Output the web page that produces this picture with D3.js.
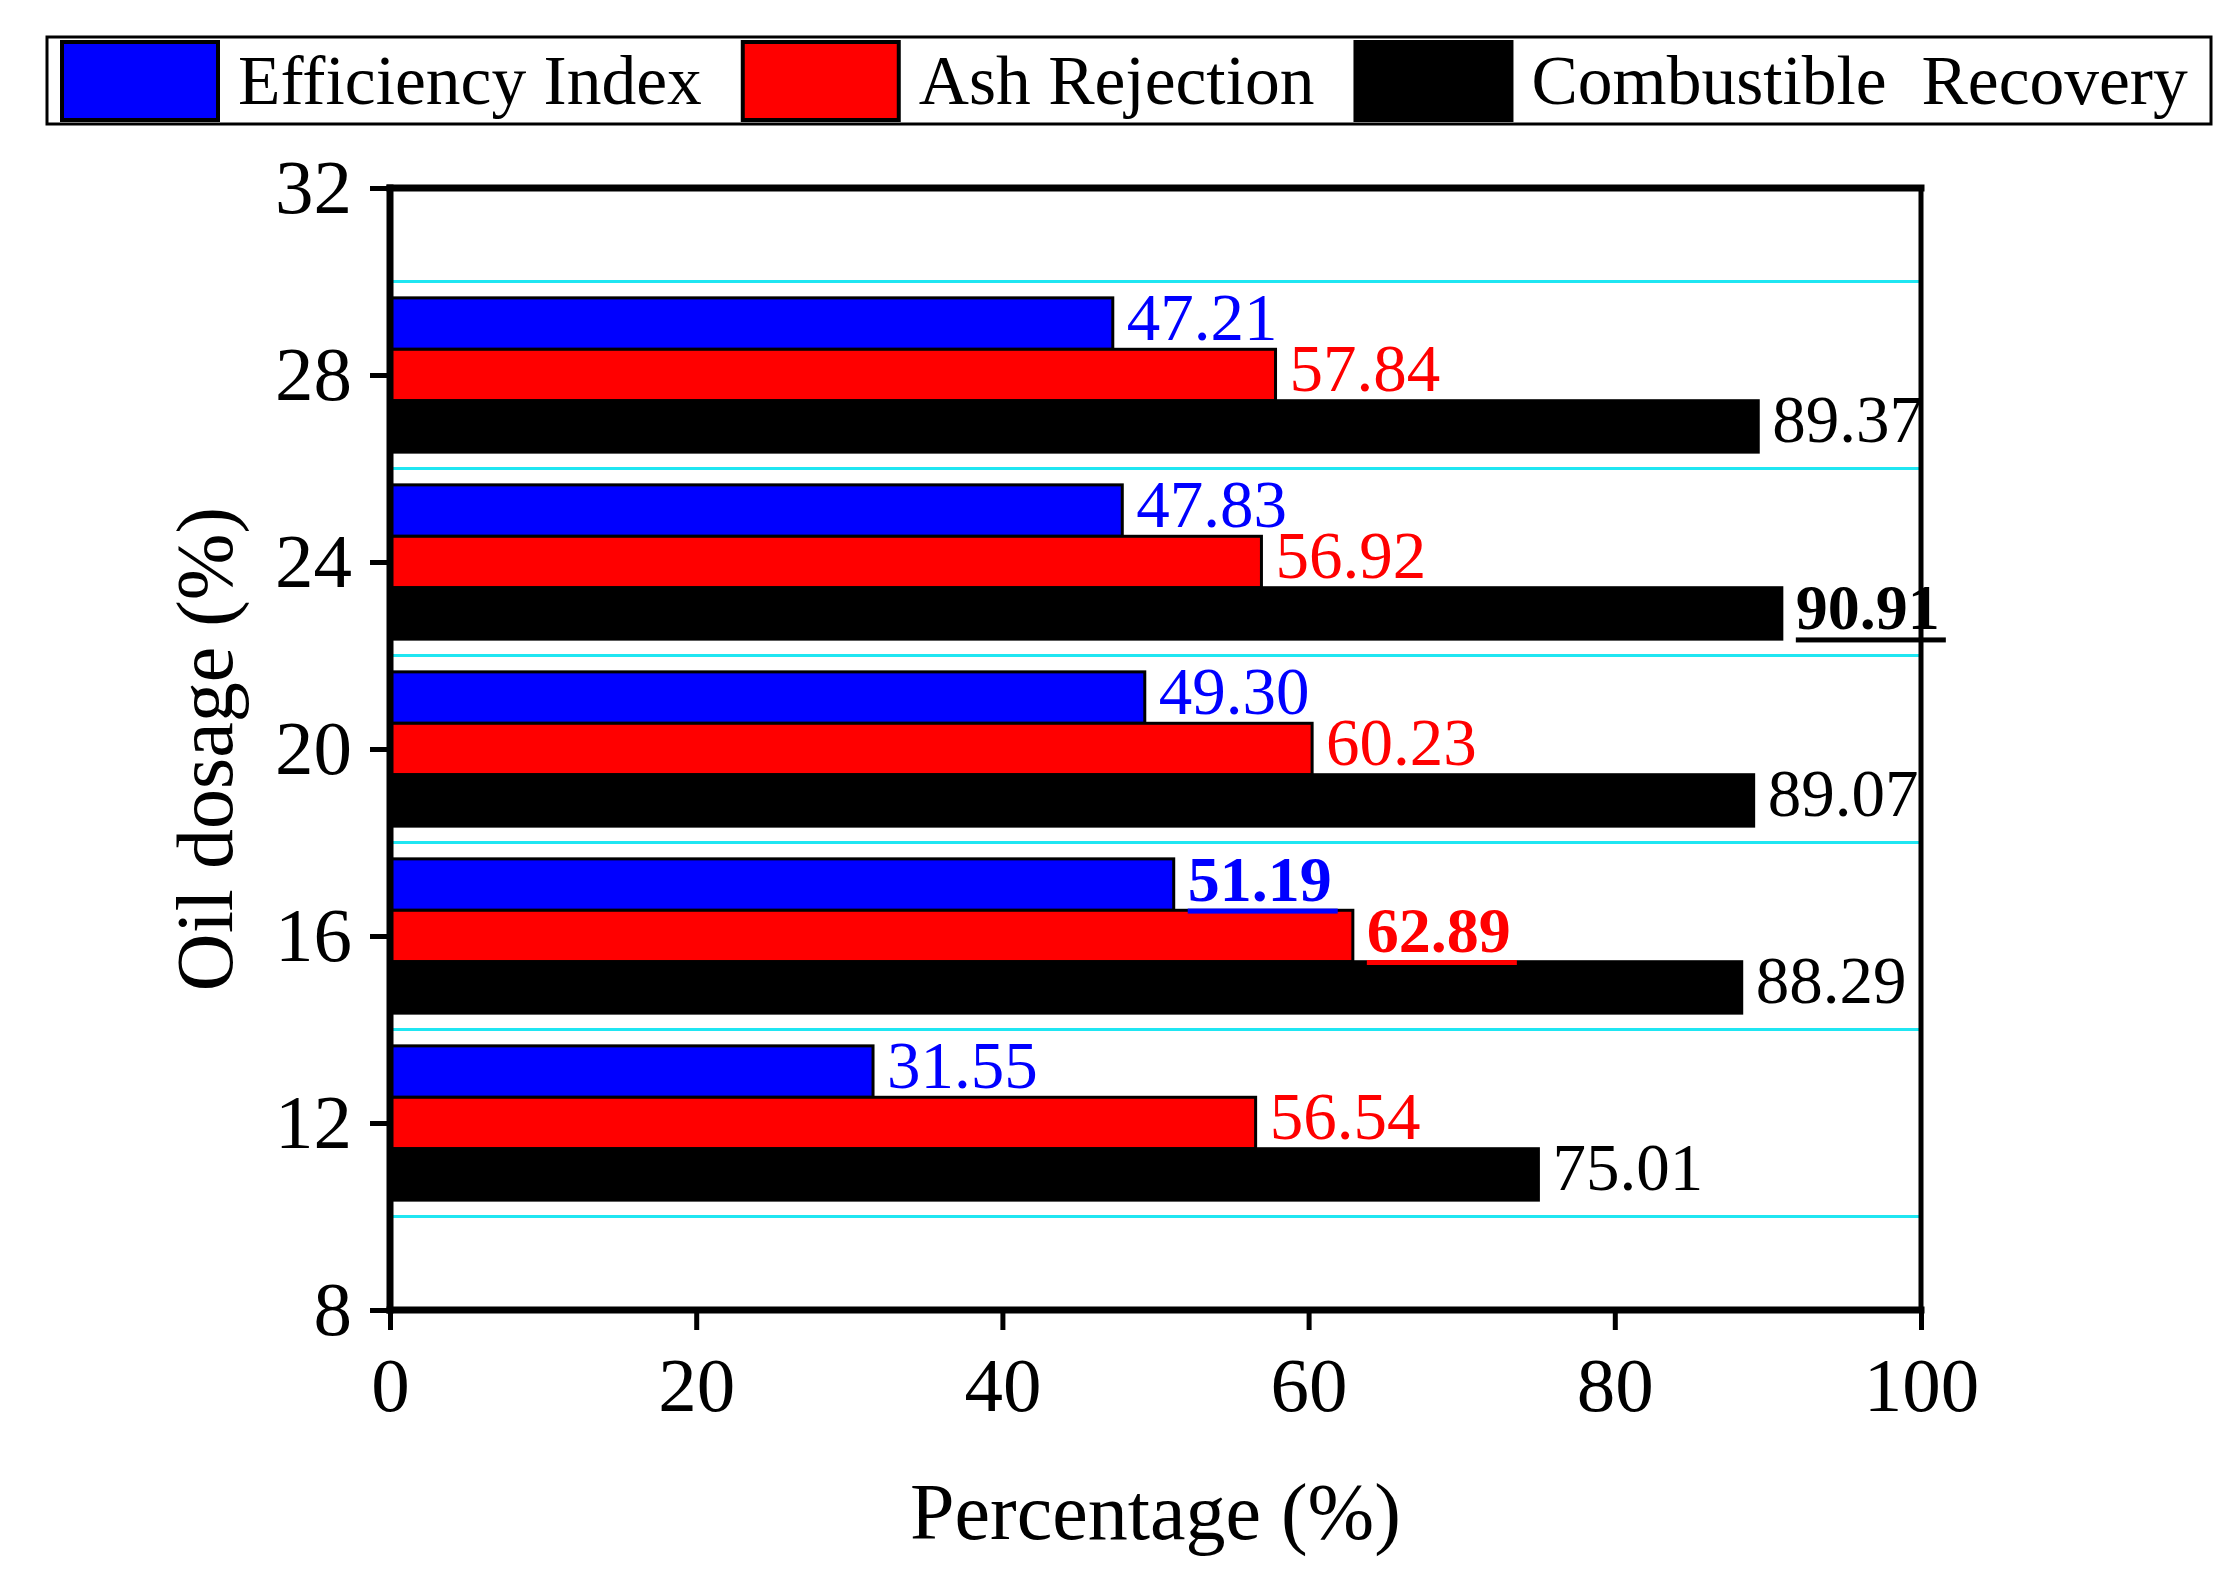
<!doctype html>
<html lang="en">
<head>
  <meta charset="utf-8">
  <title>Oil dosage</title>
  <style>
    body { margin: 0; background: #fff; }
    svg { display: block; font-family: "Liberation Serif", "Times New Roman", serif; }
    .legend-text { white-space: pre; }
  </style>
</head>
<body>
  <div id="chart"></div>
  <script src="https://cdn.jsdelivr.net/npm/d3@7"></script>
  <script>
(function() {

  // values
  var dosages = [12, 16, 20, 24, 28];
  var efficiencyIndex = [31.55, 51.19, 49.30, 47.83, 47.21];
  var ashRejection = [56.54, 62.89, 60.23, 56.92, 57.84];
  var combustibleRecovery = [75.01, 88.29, 89.07, 90.91, 89.37];
  var seriesNames = ["Efficiency Index", "Ash Rejection", "Combustible  Recovery"];
  var seriesColors = ["#0000ff", "#ff0000", "#000000"];
  var xTicks = [0, 20, 40, 60, 80, 100];
  var yTicks = [8, 12, 16, 20, 24, 28, 32];
  var gridLines = [10, 14, 18, 22, 26, 30];

  var width = 2240;
  var height = 1586;
  var left = 390, right = 1921, top = 188, bottom = 1310;
  var barUnits = 1.1;

  var svg = d3.select("#chart")
      .append("svg")
      .attr("width", width)
      .attr("height", height);

  var x = d3.scaleLinear().domain([0, 100]).range([left, right]);
  var y = d3.scaleLinear().domain([8, 32]).range([bottom, top]);
  var barH = y(0) - y(barUnits);

  var series = [efficiencyIndex, ashRejection, combustibleRecovery];

  // cyan minor lines
  svg.append("g").selectAll("line")
      .data(gridLines)
      .enter().append("line")
      .attr("x1", left).attr("x2", right)
      .attr("y1", function(d) { return y(d); })
      .attr("y2", function(d) { return y(d); })
      .attr("stroke", "#1fe6f2")
      .attr("stroke-width", 3);

  // bars: blue on top, red on the tick, black below
  series.forEach(function(vals, i) {
    var shift = (1 - i) * barUnits;
    svg.append("g").selectAll("rect")
        .data(vals)
        .enter().append("rect")
        .attr("x", x(0))
        .attr("y", function(d, j) { return y(dosages[j] + shift) - barH / 2; })
        .attr("width", function(d) { return x(d) - x(0); })
        .attr("height", barH)
        .attr("fill", seriesColors[i])
        .attr("stroke", "#000")
        .attr("stroke-width", 3);
  });

  // axes
  var yAxis = svg.append("g")
      .attr("transform", "translate(" + left + ",0)")
      .call(d3.axisLeft(y).tickValues(yTicks).tickSize(20).tickSizeOuter(0).tickPadding(18));
  var xAxis = svg.append("g")
      .attr("transform", "translate(0," + bottom + ")")
      .call(d3.axisBottom(x).tickValues(xTicks).tickSize(20).tickSizeOuter(0).tickPadding(26));

  [yAxis, xAxis].forEach(function(a) {
    a.select(".domain").remove();
    a.selectAll(".tick line").attr("stroke", "#000").attr("stroke-width", 5);
    a.selectAll(".tick text")
        .attr("fill", "#000")
        .style("font-size", "77px")
        .style("font-family", "'Liberation Serif', 'Times New Roman', serif");
  });

  // frame
  var frame = svg.append("g").attr("stroke", "#000").attr("stroke-linecap", "square");
  frame.append("line").attr("x1", left).attr("x2", right).attr("y1", top).attr("y2", top).attr("stroke-width", 7);
  frame.append("line").attr("x1", left).attr("x2", right).attr("y1", bottom).attr("y2", bottom).attr("stroke-width", 7);
  frame.append("line").attr("x1", left).attr("x2", left).attr("y1", top).attr("y2", bottom).attr("stroke-width", 7);
  frame.append("line").attr("x1", right).attr("x2", right).attr("y1", top).attr("y2", bottom).attr("stroke-width", 5);

  // value labels, the largest of each series bold and underlined
  var fmt = d3.format(".2f");
  series.forEach(function(vals, i) {
    var shift = (1 - i) * barUnits;
    var best = d3.max(vals);
    vals.forEach(function(v, j) {
      var bold = v === best;
      var baseY = y(dosages[j] + shift) + 16;
      var t = svg.append("text")
          .attr("x", x(v) + 14)
          .attr("y", baseY)
          .attr("fill", seriesColors[i])
          .style("font-size", bold ? "64px" : "67px")
          .style("font-weight", bold ? "bold" : "normal")
          .text(fmt(v));
      if (bold) {
        var w = t.node().getComputedTextLength();
        svg.append("rect")
            .attr("x", x(v) + 14)
            .attr("y", baseY + 8)
            .attr("width", w + 6)
            .attr("height", 5)
            .attr("fill", seriesColors[i]);
      }
    });
  });

  // axis titles
  svg.append("text")
      .attr("x", (left + right) / 2)
      .attr("y", 1539)
      .attr("text-anchor", "middle")
      .style("font-size", "80px")
      .text("Percentage (%)");

  svg.append("text")
      .attr("transform", "translate(232," + (top + bottom) / 2 + ") rotate(-90)")
      .attr("text-anchor", "middle")
      .style("font-size", "80px")
      .text("Oil dosage (%)");

  // legend
  var legend = svg.append("g");
  legend.append("rect")
      .attr("x", 47).attr("y", 37)
      .attr("width", 2164).attr("height", 87)
      .attr("fill", "none")
      .attr("stroke", "#000")
      .attr("stroke-width", 3);

  var lx = 62;
  seriesNames.forEach(function(name, i) {
    legend.append("rect")
        .attr("x", lx).attr("y", 42)
        .attr("width", 156).attr("height", 78)
        .attr("fill", seriesColors[i])
        .attr("stroke", "#000")
        .attr("stroke-width", 4);
    var t = legend.append("text")
        .attr("class", "legend-text")
        .attr("x", lx + 176)
        .attr("y", 104)
        .style("font-size", "69.5px")
        .text(name);
    lx = lx + 176 + t.node().getComputedTextLength() + 41;
  });

})();
  </script>
</body>
</html>
